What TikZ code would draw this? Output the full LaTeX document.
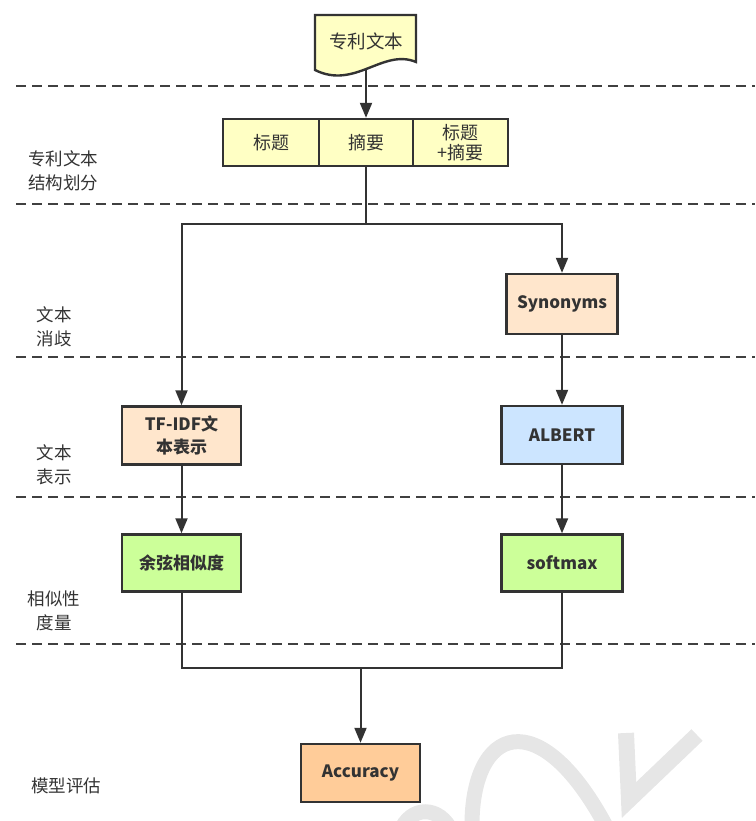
\documentclass[tikz,border=0pt]{standalone}
\usepackage{fontspec}
\setmainfont{Noto Sans CJK SC}
\usetikzlibrary{arrows.meta}
\definecolor{ink}{HTML}{333333}
\definecolor{dashc}{HTML}{404040}
\definecolor{yel}{HTML}{FFFFC4}
\definecolor{peach}{HTML}{FFE6CC}
\definecolor{blu}{HTML}{CCE5FF}
\definecolor{grn}{HTML}{CCFF99}
\definecolor{org}{HTML}{FFCC99}
\definecolor{wm}{HTML}{E6E6E6}
\begin{document}
\begin{tikzpicture}[x=1pt,y=-1pt,
  box/.style={draw=ink, line width=2.4pt, inner sep=0pt, text=ink, align=center,
    font=\fontsize{18}{21}\selectfont},
  bbox/.style={box, font=\fontsize{17}{20}\selectfont\bfseries},
  conn/.style={draw=ink, line width=2pt},
  arr/.style={conn, -{Triangle[width=12pt,length=15pt]}},
  sep/.style={draw=dashc, line width=2pt, dash pattern=on 10pt off 6pt},
  side/.style={text=ink, align=center, font=\fontsize{17.5}{24}\selectfont}]
\useasboundingbox (0,0) rectangle (755,821);
% watermark
\draw[wm, line width=15pt] (472,830) .. controls (470,725) and (540,700) .. (608,830);
\draw[wm, line width=15pt] (400,832) .. controls (410,805) and (440,805) .. (452,832);
\draw[wm, line width=16pt, line join=miter] (626,733) -- (629,800) -- (697,735);
% separators
\foreach \yy in {86,204,357,497,644} \draw[sep] (16,\yy) -- (755,\yy);
% side labels
\node[side] (l1) at (63,171) {专利文本\\结构划分};
\node[side] (l2) at (54,327) {文本\\消歧};
\node[side] (l3) at (54,465) {文本\\表示};
\node[side] (l4) at (54,611) {相似性\\度量};
\node[side] (l5) at (66,786) {模型评估};
% boxes
\node[box, fill=yel, minimum width=96pt, minimum height=47pt] (t1) at (271,142.5) {标题};
\node[box, fill=yel, minimum width=94pt, minimum height=47pt] (t2) at (366,142.5) {摘要};
\node[box, fill=yel, minimum width=95pt, minimum height=47pt, font=\fontsize{18}{20}\selectfont] (t3) at (460.5,142.5) {标题\\+摘要};
\node[bbox, fill=peach, minimum width=111pt, minimum height=60pt] (syn) at (562,304) {Synonyms};
\node[bbox, fill=peach, minimum width=119pt, minimum height=58pt, font=\fontsize{17}{23}\selectfont\bfseries] (tfidf) at (181.5,435.5) {TF-IDF文\\本表示};
\node[bbox, fill=blu, minimum width=121pt, minimum height=58pt] (albert) at (562,435) {ALBERT};
\node[bbox, fill=grn, minimum width=119pt, minimum height=57pt] (cos) at (181.5,563) {余弦相似度};
\node[bbox, fill=grn, minimum width=121pt, minimum height=57pt] (softmax) at (562,563) {softmax};
\node[bbox, fill=org, minimum width=119pt, minimum height=58pt] (acc) at (360.5,773) {Accuracy};
% connectors
\coordinate (docb) at (366,68);
\coordinate (j1) at (366,224);
\coordinate (j2) at (360.5,668);
\draw[arr] (docb) -- (t2.north);
\draw[conn] (t2.south) -- (j1);
\draw[arr] (j1) -| (tfidf.north);
\draw[arr] (j1) -| (syn.north);
\draw[arr] (syn.south) -- (albert.north);
\draw[arr] (tfidf.south) -- (cos.north);
\draw[arr] (albert.south) -- (softmax.north);
\draw[conn] (cos.south) |- (j2);
\draw[conn] (softmax.south) |- (j2);
\draw[arr] (j2) -- (acc.north);
% document shape
\draw[draw=ink, fill=yel, line width=2.4pt] (315,15) -- (416,15) -- (416,62)
  .. controls (383,48) and (355,90) .. (315,70) -- cycle;
\node[text=ink, font=\fontsize{18.5}{21}\selectfont] (doc) at (366,41) {专利文本};
\end{tikzpicture}
\end{document}
